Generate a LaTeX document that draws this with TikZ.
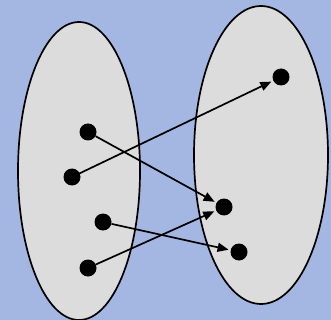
\documentclass[tikz,border=0pt]{standalone}
\usepackage{tikz}
\usetikzlibrary{arrows.meta}
\definecolor{bgblue}{HTML}{A3B7E2}
\definecolor{setgray}{HTML}{DCDCDC}
\tikzset{
  setshape/.style={
    draw,
    fill=setgray,
    line width=1.7pt
  },
  elem/.style={
    circle,
    fill=black,
    inner sep=0pt,
    minimum size=17pt
  },
  arrow/.style={
    -{Triangle[length=11pt,width=9pt]},
    line width=1.7pt,
    shorten >=2pt
  }
}
\begin{document}
\begin{tikzpicture}[x=1pt,y=-1pt]

% background
\useasboundingbox (0,0) rectangle (331,320);
\fill[bgblue] (0,0) rectangle (331,320);

% the two sets
\draw[setshape] (79,171) ellipse [x radius=61, y radius=149];
\draw[setshape] (261,155) ellipse [x radius=67, y radius=149];

% left elements
\node[elem] (l1) at (88,132) {};
\node[elem] (l2) at (72,177) {};
\node[elem] (l3) at (103,222) {};
\node[elem] (l4) at (88,268) {};

% right elements
\node[elem] (r1) at (281,77) {};
\node[elem] (r2) at (224,207) {};
\node[elem] (r3) at (239,252) {};

% mapping
\draw[arrow, shorten <=-8pt] (l2.center) -- (r1);
\draw[arrow] (l1) -- (r2);
\draw[arrow] (l4) -- (r2);
\draw[arrow] (l3) -- (r3);

\end{tikzpicture}
\end{document}
